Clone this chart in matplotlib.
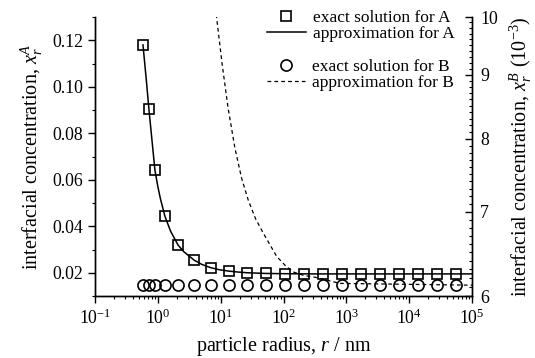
import numpy as np
import matplotlib
matplotlib.use("Agg")
import matplotlib.pyplot as plt
from matplotlib.ticker import FixedLocator, NullFormatter, FuncFormatter, LogLocator, MultipleLocator

# particle radius of the exact solutions (nm)
r_exact = [0.58, 0.72, 0.90, 1.3, 2.1, 3.8, 6.9, 13.5, 26.5, 52.5,
           107, 214, 428, 860, 1720, 3450, 6900, 13800, 27600, 56000]
# exact interfacial concentration of A (left axis)
xA_exact = [0.118, 0.0906, 0.064, 0.0442, 0.0319, 0.0254, 0.0222, 0.0207, 0.0200, 0.0197,
            0.0196, 0.0196, 0.0196, 0.0196, 0.0196, 0.0196, 0.0196, 0.0196, 0.0196, 0.0196]
# exact interfacial concentration of B (right axis, 10^-3)
xB_exact = [6.12, 6.12, 6.12, 6.12, 6.12, 6.12, 6.12, 6.12, 6.12, 6.12,
            6.12, 6.12, 6.12, 6.12, 6.12, 6.12, 6.12, 6.12, 6.12, 6.12]

# approximation for A
r_fitA = [0.58, 0.65, 0.72, 0.80, 0.90, 1.0, 1.1, 1.3, 1.6, 2.1, 2.6, 3.8,
          5.0, 6.9, 9.5, 13.5, 19, 26.5, 52, 100, 300, 1e5]
xA_fit = [0.118, 0.104, 0.0906, 0.078, 0.064, 0.0571, 0.0518, 0.0442, 0.0378, 0.0319, 0.0290, 0.0254,
          0.0236, 0.0222, 0.0213, 0.0207, 0.0203, 0.0200, 0.0197, 0.0196, 0.0195, 0.0195]

# approximation for B (10^-3)
r_fitB = [8.5, 10.5, 13.1, 16.9, 21.6, 27.5, 36, 47.8, 78, 105, 143, 210, 316, 794, 1e5]
xB_fit = [10.05, 9.19, 8.47, 7.86, 7.44, 7.15, 6.91, 6.73, 6.45, 6.35, 6.27, 6.23, 6.21, 6.14, 6.12]

plt.rcParams['font.family'] = 'serif'
plt.rcParams['font.serif'] = ['Liberation Serif', 'DejaVu Serif']
plt.rcParams['mathtext.fontset'] = 'custom'
plt.rcParams['mathtext.rm'] = 'Liberation Serif'
plt.rcParams['mathtext.it'] = 'Liberation Serif:italic'

fig = plt.figure(figsize=(5.35, 3.58), dpi=100, facecolor='white')
ax = fig.add_axes([95 / 535, 1 - 296 / 358, 377 / 535, 279 / 358])
ax2 = ax.twinx()

# A on left axis
lineA, = ax.plot(r_fitA, xA_fit, '-', color='black', lw=1.1)
sqA, = ax.plot(r_exact, xA_exact, 's', mfc='none', mec='black', mew=1.2, ms=7, ls='none')

# B on right axis
lineB, = ax2.plot(r_fitB, xB_fit, color='black', lw=0.9, ls=(0, (3, 2.5)))
circB, = ax2.plot(r_exact, xB_exact, 'o', mfc='none', mec='black', mew=1.2, ms=8, ls='none')

ax.set_xscale('log')
ax.set_xlim(1e-1, 1e5)
ax.set_ylim(0.01, 0.13)
ax.yaxis.set_major_locator(FixedLocator([0.02, 0.04, 0.06, 0.08, 0.10, 0.12]))
ax.yaxis.set_minor_locator(MultipleLocator(0.01))
ax.yaxis.set_major_formatter(FuncFormatter(lambda v, p: f"{v:.2f}"))
ax.xaxis.set_major_locator(LogLocator(base=10, numticks=10))
ax.xaxis.set_minor_locator(LogLocator(base=10, subs=np.arange(2, 10), numticks=20))
ax.xaxis.set_minor_formatter(NullFormatter())

ax2.set_yscale('log')
ax2.set_ylim(6, 10)
ax2.yaxis.set_major_locator(FixedLocator([6, 7, 8, 9, 10]))
ax2.yaxis.set_minor_locator(FixedLocator(np.arange(6.1, 10.0, 0.1)))
ax2.yaxis.set_major_formatter(FuncFormatter(lambda v, p: f"{v:.0f}"))
ax2.yaxis.set_minor_formatter(NullFormatter())

for a in (ax, ax2):
    a.spines['top'].set_visible(False)
    for s in a.spines.values():
        s.set_linewidth(1.0)

ax.tick_params(axis='both', which='major', direction='out', length=5, width=1.0, labelsize=12.8)
ax.tick_params(axis='both', which='minor', direction='out', length=2.5, width=0.8)
ax.tick_params(axis='x', pad=4)
ax2.tick_params(axis='y', which='major', direction='in', length=5, width=1.0, labelsize=12.8, pad=6)
ax2.tick_params(axis='y', which='minor', direction='in', length=2.5, width=0.8)

ax.set_xlabel('particle radius, $r$ / nm', fontsize=14.5, labelpad=5)
ax.set_ylabel('interfacial concentration, $x_r^A$', fontsize=14.5, labelpad=5)
ax2.set_ylabel('interfacial concentration, $x_r^B$ (10$^{-3}$)', fontsize=14.5, labelpad=7)

leg1 = ax2.legend([sqA, lineA], ['exact solution for A', 'approximation for A'],
                  loc='upper right', bbox_to_anchor=(0.953, 1.025), frameon=False,
                  fontsize=12.5, borderpad=0, borderaxespad=0, numpoints=1,
                  handlelength=2.2, handletextpad=0.4, labelspacing=0.0)
ax2.add_artist(leg1)
leg2 = ax2.legend([circB, lineB], ['exact solution for B', 'approximation for B'],
                  loc='upper right', bbox_to_anchor=(0.953, 0.85), frameon=False,
                  fontsize=12.5, borderpad=0, borderaxespad=0, numpoints=1,
                  handlelength=2.2, handletextpad=0.4, labelspacing=0.0)

fig.savefig('out.png', dpi=100, facecolor='white')
plt.close(fig)
